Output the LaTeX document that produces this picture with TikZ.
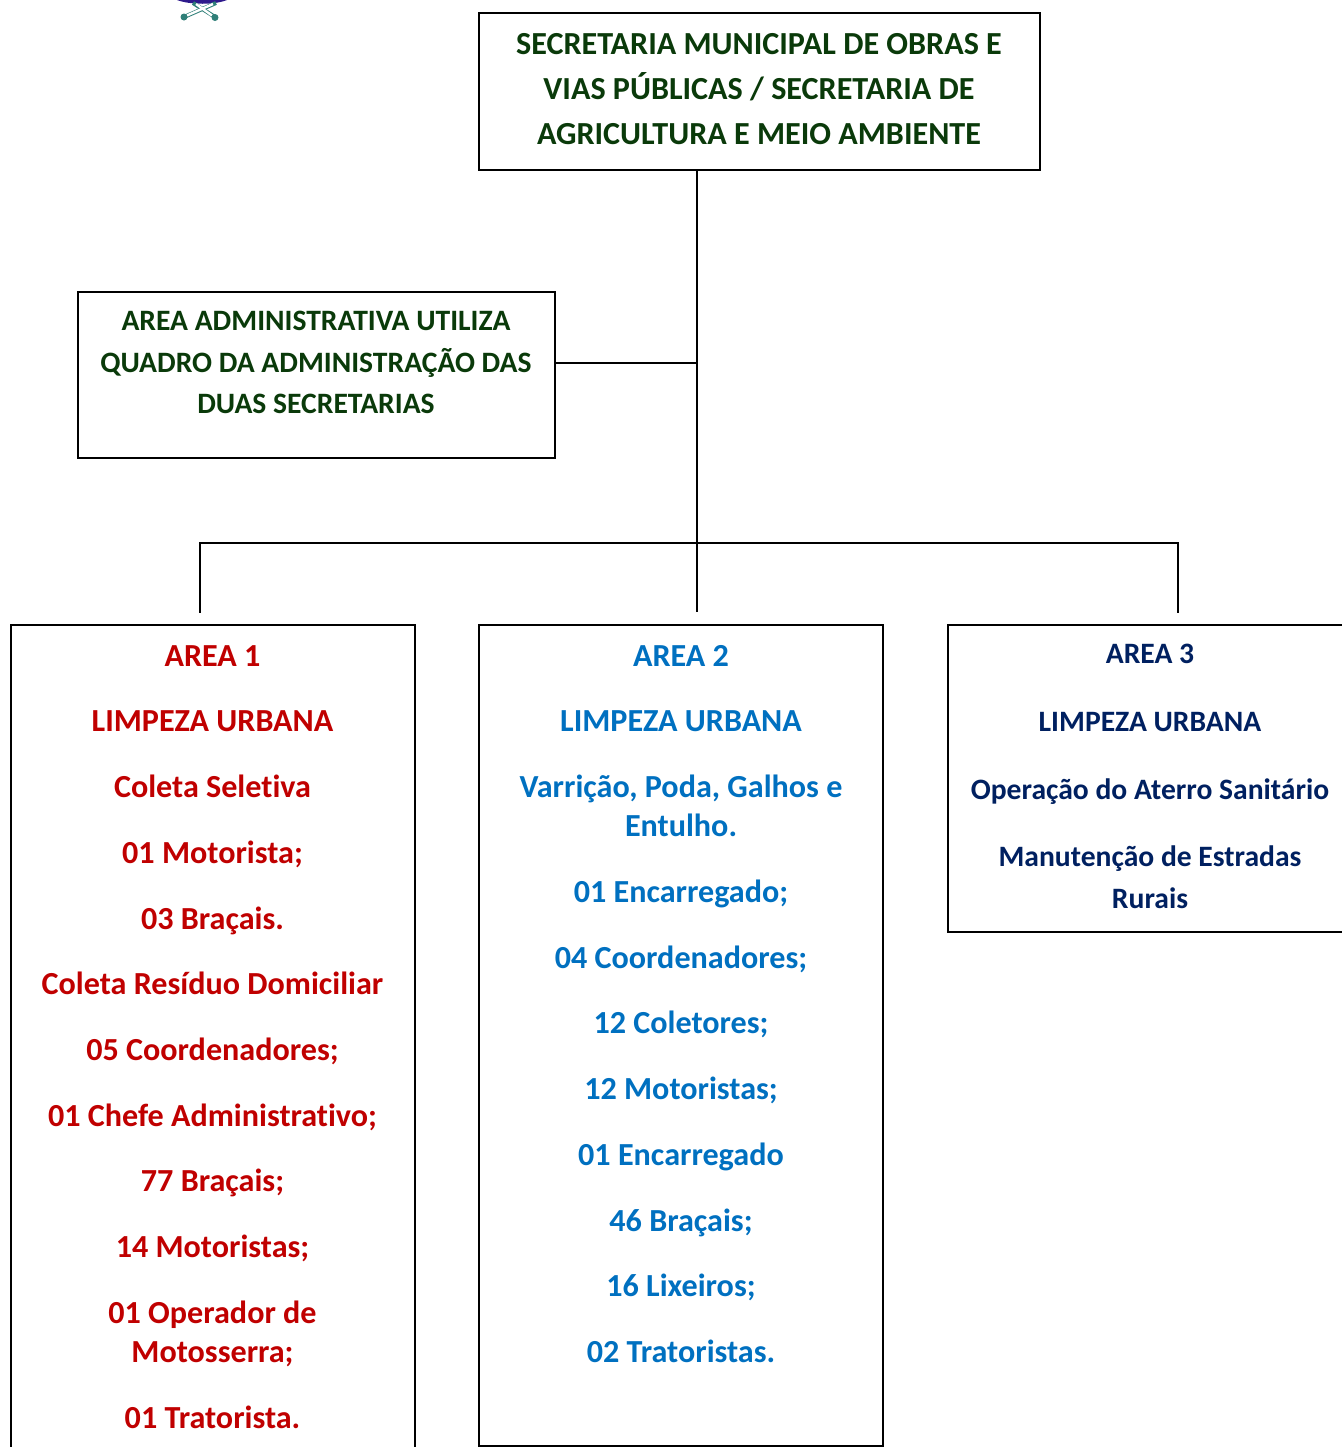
\documentclass[tikz,border=0pt]{standalone}
\usepackage{fontspec}
\setmainfont[Ligatures=NoCommon]{Carlito}
\usepackage{tikz}
\definecolor{secgreen}{HTML}{0A3A0A}
\definecolor{areared}{HTML}{C00000}
\definecolor{areablue}{HTML}{0070C0}
\definecolor{areanavy}{HTML}{002060}
\definecolor{logopurple}{HTML}{2E1A8C}
\definecolor{logoteal}{HTML}{2F7F78}
\tikzset{
  boxnode/.style={draw=black, line width=1.5pt, rectangle, anchor=north west, inner sep=0pt, outer sep=0pt},
  linenode/.style={anchor=base, inner sep=0pt, yshift=-0.4pt, font=\fontsize{#1}{#1}\selectfont\bfseries},
  linenode/.default=24,
  linkline/.style={black, line width=1.5pt}
}
\begin{document}
\begin{tikzpicture}[x=0.75pt, y=-0.75pt]
  \useasboundingbox (0,0) rectangle (1342,1447);
  \clip (0,0) rectangle (1342,1447);

  % piece of the logo at the top edge
  \fill [logopurple] (177,0) .. controls (190,5) and (215,5) .. (227,0) -- cycle;
  \draw [logoteal, line width=3pt] (184,17) -- (216,3);
  \draw [logoteal, line width=3pt] (215,17) -- (193,3);
  \draw [white, line width=1.8pt] (187,15.5) -- (213,4);
  \draw [white, line width=1.8pt] (212,15.5) -- (196,4);
  \fill [logoteal] (184,17) circle (3.5);
  \fill [logoteal] (215,17.5) circle (3.5);

  % boxes
  \node [boxnode, minimum width=420.75pt, minimum height=117.75pt] (sec) at (479,13) {};
  \node [boxnode, minimum width=357.75pt, minimum height=124.5pt] (adm) at (78,292) {};
  \node [boxnode, minimum width=303pt, minimum height=630pt] (areaone) at (11,625) {};
  \node [boxnode, minimum width=303pt, minimum height=615.75pt] (areatwo) at (479,625) {};
  \node [boxnode, minimum width=303pt, minimum height=230.25pt] (areathree) at (948,625) {};

  % texts
  \foreach \ypos/\txt [count=\i] in {54/SECRETARIA MUNICIPAL DE OBRAS E, 99/{VIAS PÚBLICAS / SECRETARIA DE}, 144/AGRICULTURA E MEIO AMBIENTE}
    \node [linenode=24.1, secgreen] (sec\i) at (759,\ypos) {\txt};

  \foreach \ypos/\txt [count=\i] in {330/AREA ADMINISTRATIVA UTILIZA, 372/QUADRO DA ADMINISTRAÇÃO DAS, 413/DUAS SECRETARIAS}
    \node [linenode=22.2, secgreen] (adm\i) at (316,\ypos) {\txt};

  \foreach \ypos/\txt [count=\i] in {666/AREA 1, 731/LIMPEZA URBANA, 797/Coleta Seletiva, 863/01 Motorista;, 929/03 Braçais., 994/Coleta Resíduo Domiciliar, 1060/05 Coordenadores;, 1126/01 Chefe Administrativo;, 1191/77 Braçais;, 1257/14 Motoristas;, 1323/01 Operador de, 1362/Motosserra;, 1428/01 Tratorista.}
    \node [linenode=24.1, areared] (aone\i) at (212.5,\ypos) {\txt};

  \foreach \ypos/\txt [count=\i] in {666/AREA 2, 731/LIMPEZA URBANA, 797/{Varrição, Poda, Galhos e}, 836/Entulho., 902/01 Encarregado;, 968/04 Coordenadores;, 1033/12 Coletores;, 1099/12 Motoristas;, 1165/01 Encarregado, 1231/46 Braçais;, 1296/16 Lixeiros;, 1362/02 Tratoristas.}
    \node [linenode=24.1, areablue] (atwo\i) at (681,\ypos) {\txt};

  \foreach \ypos/\txt [count=\i] in {663/AREA 3, 731/LIMPEZA URBANA, 799/Operação do Aterro Sanitário, 866/Manutenção de Estradas, 908/Rurais}
    \node [linenode=22.2, areanavy] (athree\i) at (1150,\ypos) {\txt};

  % connectors
  \coordinate (trunkend) at (696.5,611.5);
  \coordinate (busleft) at (200,612.5);
  \coordinate (busright) at (1178,612.5);
  \coordinate (busmid) at (696.5,543);
  \coordinate (admjoin) at (696.5,363);
  \draw [linkline] (sec.south -| trunkend) -- (trunkend);
  \draw [linkline] (adm.east |- admjoin) -- (admjoin);
  \draw [linkline] (busleft) |- (busmid) -| (busright);
\end{tikzpicture}
\end{document}
